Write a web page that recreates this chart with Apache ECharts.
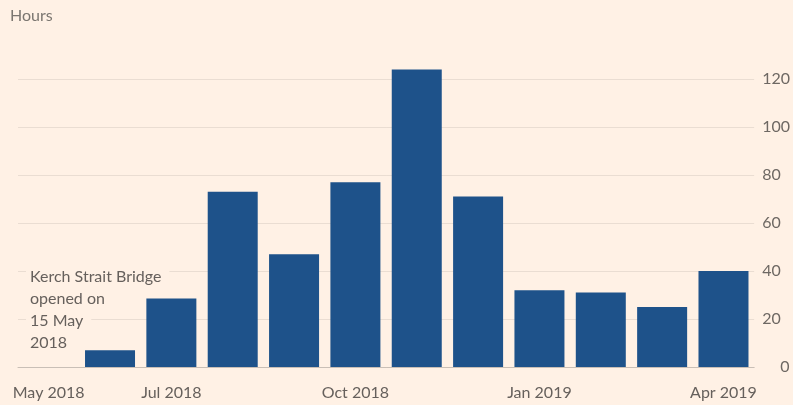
<!DOCTYPE html>
<html>
<head>
<meta charset="utf-8">
<script src="https://cdn.jsdelivr.net/npm/echarts@6/dist/echarts.min.js"></script>
<style>
  html, body { margin: 0; padding: 0; background: #fff1e5; }
  #chart { width: 793px; height: 405px; }
</style>
</head>
<body>
<div id="chart"></div>
<script>
const months = ["May 2018", "Jun 2018", "Jul 2018", "Aug 2018", "Sep 2018", "Oct 2018",
  "Nov 2018", "Dec 2018", "Jan 2019", "Feb 2019", "Mar 2019", "Apr 2019"];
const hours = [null, 7, 28.5, 73, 47, 77, 124, 71, 32, 31, 25, 40];
const shownLabels = ["May 2018", "Jul 2018", "Oct 2018", "Jan 2019", "Apr 2019"];
const noteLines = ["Kerch Strait Bridge", "opened on", "15 May", "2018"];

const font = "Lato, 'Open Sans', sans-serif";
const chart = echarts.init(document.getElementById("chart"));

chart.setOption({
  backgroundColor: "#fff1e5",
  animation: false,
  grid: { left: 18, right: 36, top: 79, bottom: 38 },
  xAxis: {
    type: "category",
    data: months,
    axisLine: { lineStyle: { color: "#c9bfb6", width: 1 } },
    axisTick: { alignWithLabel: true, length: 8, lineStyle: { color: "#c9bfb6" } },
    axisLabel: {
      interval: 0,
      margin: 18,
      color: "#66605c",
      fontFamily: font,
      fontSize: 16,
      formatter: v => shownLabels.includes(v) ? v : ""
    }
  },
  yAxis: {
    type: "value",
    position: "right",
    min: 0,
    max: 120,
    interval: 20,
    axisLine: { show: false },
    axisTick: { show: false },
    splitLine: { lineStyle: { color: "#eaddd2", width: 1 } },
    axisLabel: {
      margin: 8,
      color: "#6e6863",
      fontFamily: font,
      fontSize: 16,
      formatter: v => v === 0 ? "{z|0}" : String(v),
      rich: { z: { padding: [0, 0, 0, 18], color: "#6e6863", fontFamily: font, fontSize: 16 } }
    }
  },
  graphic: [
    {
      type: "text", left: 10, top: 8, z: 100,
      style: { text: "Hours", fill: "#7b7670", font: "16px " + font }
    }
  ].concat(noteLines.map((t, i) => ({
    type: "text", left: 26, top: 269 + i * 22, z: 100,
    style: {
      text: t, fill: "#66605c", font: "16px " + font,
      backgroundColor: "#fff1e5", padding: [0, 8, 0, 4]
    }
  }))),
  series: [{
    type: "bar",
    data: hours,
    barWidth: 50,
    clip: false,
    itemStyle: { color: "#1e528a" }
  }]
});
</script>
</body>
</html>
